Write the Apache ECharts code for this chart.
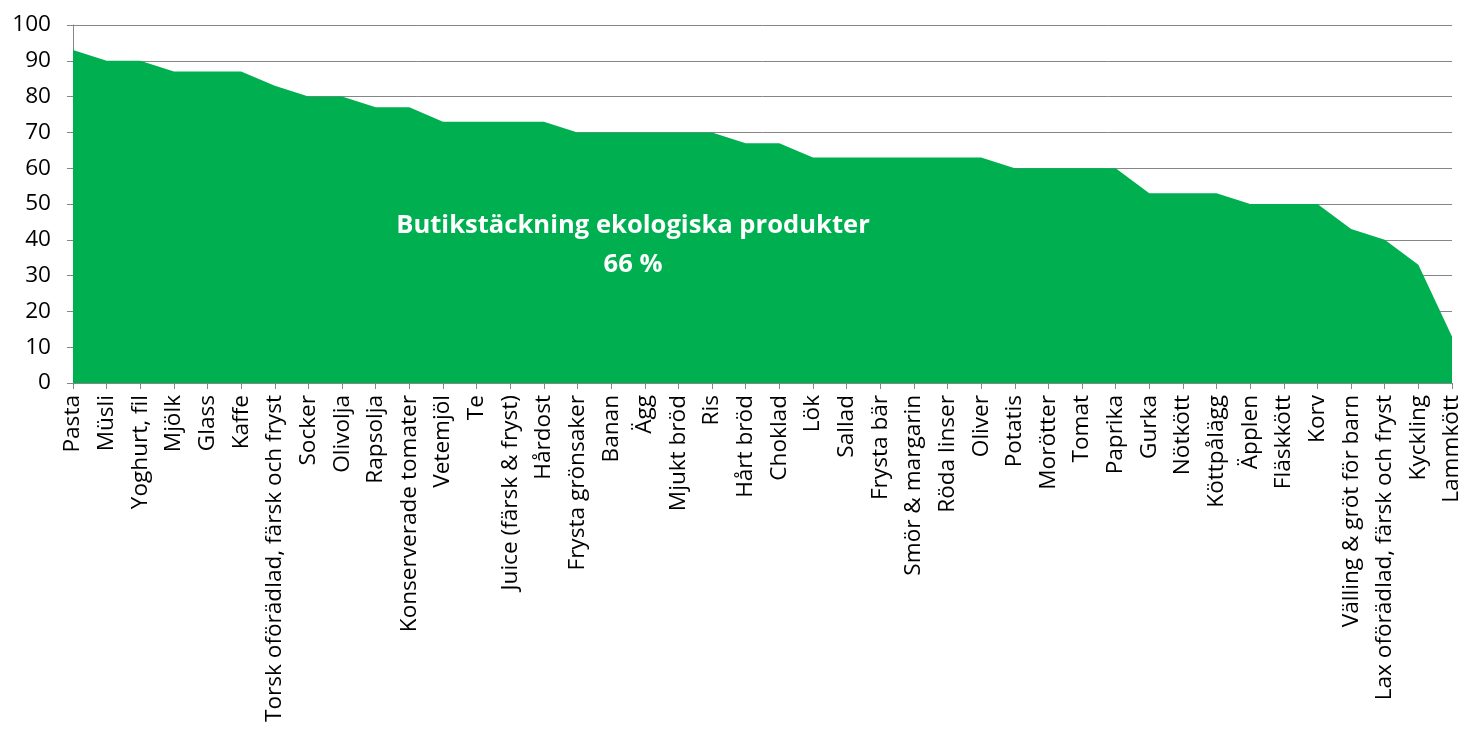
<!DOCTYPE html>
<html>
<head>
<meta charset="utf-8">
<script src="https://cdn.jsdelivr.net/npm/echarts@6/dist/echarts.min.js"></script>
<style>
  html, body { margin: 0; padding: 0; background: #fff; }
  #chart { width: 1466px; height: 733px; }
</style>
</head>
<body>
<div id="chart"></div>
<script>
// produkter, sorterade efter butikstäckning
var categories = [
  'Pasta', 'Müsli', 'Yoghurt, fil', 'Mjölk', 'Glass', 'Kaffe',
  'Torsk oförädlad, färsk och fryst', 'Socker', 'Olivolja', 'Rapsolja',
  'Konserverade tomater', 'Vetemjöl', 'Te', 'Juice (färsk & fryst)', 'Hårdost',
  'Frysta grönsaker', 'Banan', 'Ägg', 'Mjukt bröd', 'Ris', 'Hårt bröd',
  'Choklad', 'Lök', 'Sallad', 'Frysta bär', 'Smör & margarin', 'Röda linser',
  'Oliver', 'Potatis', 'Morötter', 'Tomat', 'Paprika', 'Gurka', 'Nötkött',
  'Köttpålägg', 'Äpplen', 'Fläskkött', 'Korv', 'Välling & gröt för barn',
  'Lax oförädlad, färsk och fryst', 'Kyckling', 'Lammkött'
];
var coverage = [
  93, 90, 90, 87, 87, 87,
  83, 80, 80, 77,
  77, 73, 73, 73, 73,
  70, 70, 70, 70, 70, 67,
  67, 63, 63, 63, 63, 63,
  63, 60, 60, 60, 60, 53, 53,
  53, 50, 50, 50, 43,
  40, 33, 13
];
var annotation = ['Butikstäckning ekologiska produkter', '66 %'];

var chart = echarts.init(document.getElementById('chart'));
var font = 'Open Sans';

chart.setOption({
  animation: false,
  grid: { left: 73, right: 14, top: 25, bottom: 350 },
  xAxis: {
    type: 'category',
    data: categories,
    boundaryGap: false,
    axisLine: { lineStyle: { color: '#868686', width: 1 } },
    axisTick: { alignWithLabel: true, length: 6, lineStyle: { color: '#868686' } },
    axisLabel: {
      interval: 0, rotate: 90, margin: 12,
      color: '#000', fontFamily: font, fontSize: 22.6
    },
    splitLine: { show: false }
  },
  yAxis: {
    type: 'value',
    min: 0, max: 100, interval: 10,
    axisLine: { show: true, lineStyle: { color: '#868686', width: 1 } },
    axisTick: { show: true, length: 6, lineStyle: { color: '#868686' } },
    axisLabel: { margin: 22, color: '#000', fontFamily: font, fontSize: 22.6 },
    splitLine: { lineStyle: { color: '#868686', width: 1 } }
  },
  series: [{
    type: 'line',
    data: coverage,
    symbol: 'none',
    lineStyle: { width: 0 },
    itemStyle: { color: '#00B050' },
    areaStyle: { color: '#00B050', opacity: 1 },
    z: 3
  }],
  graphic: [{
    type: 'text',
    x: 633, y: 206,
    z: 10,
    style: {
      text: annotation.join('\n'),
      fill: '#fff',
      font: 'bold 25.6px "Open Sans"',
      align: 'center',
      lineHeight: 39
    }
  }]
});
</script>
</body>
</html>
